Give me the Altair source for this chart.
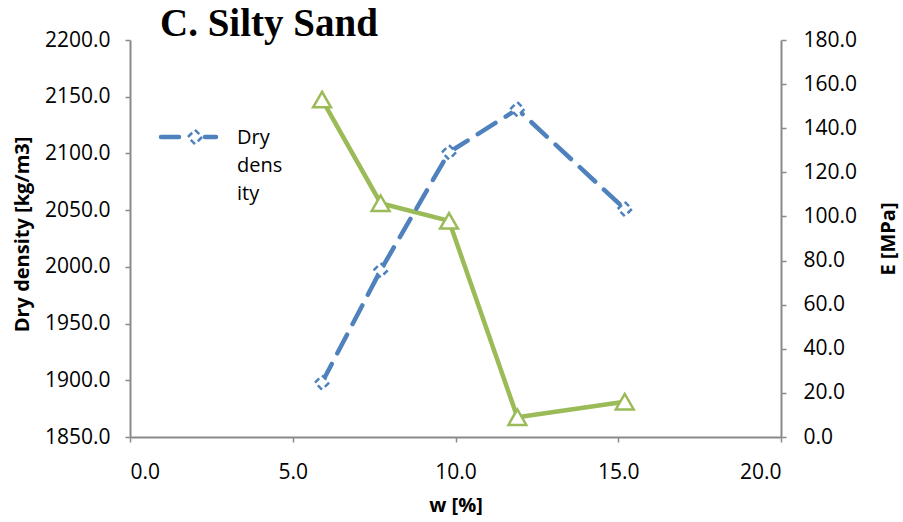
import altair as alt
import pandas as pd

# ---- data ----
w_percent = [5.9, 7.7, 9.8, 11.9, 15.2]
dry_density = [1898, 1997, 2101, 2139, 2051]
e_mpa = [153, 106, 98, 9, 16]

x_ticks = [0, 5, 10, 15, 20]
rho_ticks = [1850, 1900, 1950, 2000, 2050, 2100, 2150, 2200]
e_ticks = [0, 20, 40, 60, 80, 100, 120, 140, 160, 180]

legend_label = "Dry\ndens\nity"
chart_title = "C. Silty Sand"

df = pd.DataFrame({"w": w_percent, "rho": dry_density, "E": e_mpa})
one = pd.DataFrame({"k": [0]})

BLUE = "#4F81BD"
GREEN = "#9BBB59"
FONT = "Open Sans"
AX = "#8a8a8a"

W, H = 651, 397

x_enc = alt.X(
    "w:Q",
    scale=alt.Scale(domain=[0, 20], nice=False, zero=False),
    axis=alt.Axis(
        values=x_ticks, format=".1f", title="w [%]",
        labelPadding=19, titleY=68, titleBaseline="middle",
    ),
)

rho_y = alt.Y(
    "rho:Q",
    scale=alt.Scale(domain=[1850, 2200], nice=False, zero=False),
    axis=alt.Axis(
        values=rho_ticks, format=".1f", title="Dry density [kg/m3]",
        orient="left", labelPadding=15, titleX=-108, titleY=194,
        titleBaseline="middle",
    ),
)

e_y = alt.Y(
    "E:Q",
    scale=alt.Scale(domain=[0, 180], nice=False, zero=False),
    axis=alt.Axis(
        values=e_ticks, format=".1f", title="E [MPa]",
        orient="right", labelPadding=17, titleX=107, titleAngle=270,
        titleBaseline="middle",
    ),
)

base = alt.Chart(df)

e_line = base.mark_line(color=GREEN, strokeWidth=4.5).encode(x=x_enc, y=e_y)
e_pts = base.mark_point(
    shape="triangle-up", size=320, filled=True, fill="white",
    stroke=GREEN, strokeWidth=2.5, opacity=1,
).encode(x=x_enc, y=e_y)
e_layer = alt.layer(e_line, e_pts)

rho_line = base.mark_line(
    color=BLUE, strokeWidth=4.5, strokeDash=[21, 12], strokeCap="round"
).encode(x=x_enc, y=rho_y)
rho_pts = base.mark_point(
    shape="diamond", size=200, filled=True, fill="white",
    stroke=BLUE, strokeWidth=2.5, strokeDash=[6, 4], opacity=1,
).encode(x=x_enc, y=rho_y)
rho_layer = alt.layer(rho_line, rho_pts)

# legend (manual, to mimic dashed line + marker + wrapped label)
leg_a = alt.Chart(one).mark_rule(color=BLUE, strokeWidth=4.5, strokeCap="round").encode(
    x=alt.value(31), x2=alt.value(49), y=alt.value(97))
leg_b = alt.Chart(one).mark_rule(color=BLUE, strokeWidth=4.5, strokeCap="round").encode(
    x=alt.value(75), x2=alt.value(86), y=alt.value(97))
leg_pt = alt.Chart(one).mark_point(
    shape="diamond", size=200, filled=True, fill="white",
    stroke=BLUE, strokeWidth=2.5, strokeDash=[6, 4], opacity=1,
).encode(x=alt.value(65), y=alt.value(97))
leg_txt = alt.Chart(one).mark_text(
    text=legend_label, lineBreak="\n", lineHeight=28, align="left",
    baseline="alphabetic", font=FONT, fontSize=20, color="black",
).encode(x=alt.value(107), y=alt.value(104))

title_txt = alt.Chart(one).mark_text(
    text=chart_title, align="left", baseline="alphabetic",
    font="Liberation Serif", fontWeight="bold", fontSize=39, color="black",
).encode(x=alt.value(30), y=alt.value(-4))

chart = (
    alt.layer(e_layer, rho_layer, leg_a, leg_b, leg_pt, leg_txt, title_txt)
    .resolve_scale(y="independent")
    .properties(
        width=W, height=H,
        autosize=alt.AutoSizeParams(type="none"),
        padding={"left": 130, "top": 40, "right": 122, "bottom": 85},
        background="white",
    )
    .configure_view(stroke=None)
    .configure_axis(
        grid=False, domainColor=AX, domainWidth=2, tickColor=AX, tickWidth=1.5,
        tickSize=5, labelFont=FONT, labelFontSize=21, labelColor="black",
        titleFont=FONT, titleFontSize=20, titleFontWeight="bold", titleColor="black",
    )
)

chart.save("out.html", embed_options={"renderer": "svg", "actions": False})
